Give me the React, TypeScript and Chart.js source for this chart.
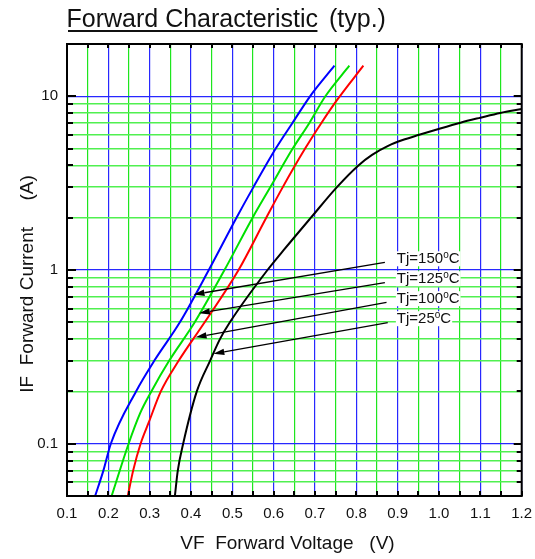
import { useEffect, useRef } from 'react';
import { Chart, registerables } from 'chart.js';

Chart.register(...registerables);

const FONT = '"Liberation Sans", Arial, Helvetica, sans-serif';

// ---- axis ticks ----
const xTicks = [0.1, 0.15, 0.2, 0.25, 0.3, 0.35, 0.4, 0.45, 0.5, 0.55, 0.6, 0.65, 0.7, 0.75, 0.8, 0.85, 0.9, 0.95, 1.0, 1.05, 1.1, 1.15, 1.2];
const xTickLabels = ['0.1', '', '0.2', '', '0.3', '', '0.4', '', '0.5', '', '0.6', '', '0.7', '', '0.8', '', '0.9', '', '1.0', '', '1.1', '', '1.2'];
const yTicks = [0.05, 0.06, 0.07, 0.08, 0.09, 0.1, 0.2, 0.3, 0.4, 0.5, 0.6, 0.7, 0.8, 0.9, 1, 2, 3, 4, 5, 6, 7, 8, 9, 10, 20];
const yTickLabels = ['', '', '', '', '', '0.1', '', '', '', '', '', '', '', '', '1', '', '', '', '', '', '', '', '', '10', ''];

// ---- series (VF in V, IF in A) ----
const vf150 = [0.168, 0.188, 0.206, 0.267, 0.311, 0.373, 0.443, 0.510, 0.551, 0.605, 0.645, 0.688, 0.747];
const if150 = [0.05, 0.07, 0.1, 0.2, 0.3, 0.5, 1, 2, 3, 5, 7, 10, 15];

const vf125 = [0.208, 0.249, 0.277, 0.304, 0.347, 0.409, 0.481, 0.549, 0.592, 0.646, 0.686, 0.725, 0.783];
const if125 = [0.05, 0.1, 0.15, 0.2, 0.3, 0.5, 1, 2, 3, 5, 7, 10, 15];

const vf100 = [0.247, 0.260, 0.278, 0.298, 0.327, 0.370, 0.433, 0.515, 0.582, 0.622, 0.676, 0.715, 0.753, 0.817];
const if100 = [0.05, 0.07, 0.1, 0.133, 0.2, 0.3, 0.5, 1, 2, 3, 5, 7, 9.5, 15];

const vf25 = [0.361, 0.368, 0.381, 0.414, 0.446, 0.470, 0.494, 0.585, 0.624, 0.690, 0.753, 0.805, 0.838, 0.878, 0.912, 0.952, 1.003, 1.052, 1.100, 1.148, 1.200];
const if25 = [0.05, 0.07, 0.1, 0.2, 0.3, 0.4, 0.5, 1, 1.3, 2, 3, 4, 4.6, 5.2, 5.6, 6.0, 6.53, 7.05, 7.53, 8.02, 8.45];

const seriesNames = ['Tj=150', 'Tj=125', 'Tj=100', 'Tj=25'];
const seriesColors = ['#0000ff', '#00e000', '#ff0000', '#000000'];
const seriesVF = [vf150, vf125, vf100, vf25];
const seriesIF = [if150, if125, if100, if25];

// ---- label annotations (data coordinates) ----
const labelX = 0.898;
const labelY = [1.093, 0.839, 0.644, 0.494];
const arrowTailX = [0.869, 0.869, 0.873, 0.876];
const arrowTailY = [1.107, 0.845, 0.652, 0.498];
const arrowTipX = [0.406, 0.419, 0.411, 0.454];
const arrowTipY = [0.722, 0.564, 0.410, 0.329];

const BLUE = 'rgb(40,40,255)';
const GREEN_V = 'rgb(30,230,30)';
const GREEN_H = 'rgb(80,240,80)';

const overlay = {
  id: 'overlay',
  afterDatasetsDraw(chart: any) {
    const ctx = chart.ctx as CanvasRenderingContext2D;
    const xs = chart.scales.x;
    const ys = chart.scales.y;
    ctx.save();
    // arrows
    ctx.strokeStyle = '#000';
    ctx.fillStyle = '#000';
    ctx.lineWidth = 1.3;
    for (let i = 0; i < arrowTailX.length; i++) {
      const x0 = xs.getPixelForValue(arrowTailX[i]);
      const y0 = ys.getPixelForValue(arrowTailY[i]);
      const x1 = xs.getPixelForValue(arrowTipX[i]);
      const y1 = ys.getPixelForValue(arrowTipY[i]);
      const a = Math.atan2(y1 - y0, x1 - x0);
      const hl = 11, hw = 3.2;
      const bx = x1 - hl * Math.cos(a), by = y1 - hl * Math.sin(a);
      ctx.beginPath();
      ctx.moveTo(x0, y0);
      ctx.lineTo(bx, by);
      ctx.stroke();
      ctx.beginPath();
      ctx.moveTo(x1, y1);
      ctx.lineTo(bx + hw * Math.sin(a), by - hw * Math.cos(a));
      ctx.lineTo(bx - hw * Math.sin(a), by + hw * Math.cos(a));
      ctx.closePath();
      ctx.fill();
    }
    // labels
    for (let i = 0; i < seriesNames.length; i++) {
      const x = xs.getPixelForValue(labelX);
      const y = ys.getPixelForValue(labelY[i]);
      ctx.font = `15px ${FONT}`;
      const w1 = ctx.measureText(seriesNames[i]).width;
      ctx.font = `10px ${FONT}`;
      const w2 = ctx.measureText('o').width;
      ctx.font = `15px ${FONT}`;
      const w3 = ctx.measureText('C').width;
      ctx.fillStyle = '#fff';
      ctx.fillRect(x - 1, y - 12, w1 + w2 + w3 + 2, 15);
      ctx.fillStyle = '#111';
      ctx.textAlign = 'left';
      ctx.textBaseline = 'alphabetic';
      ctx.fillText(seriesNames[i], x, y);
      ctx.font = `10px ${FONT}`;
      ctx.fillText('o', x + w1, y - 5.5);
      ctx.font = `15px ${FONT}`;
      ctx.fillText('C', x + w1 + w2, y);
    }
    ctx.restore();
  },
  afterDraw(chart: any) {
    const ctx = chart.ctx as CanvasRenderingContext2D;
    const { left, right, top, bottom } = chart.chartArea;
    const xs = chart.scales.x;
    const ys = chart.scales.y;
    ctx.save();
    // inward ticks
    ctx.strokeStyle = '#000';
    ctx.lineWidth = 2;
    ctx.beginPath();
    xTicks.forEach((v) => {
      const px = Math.round(xs.getPixelForValue(v));
      ctx.moveTo(px, top); ctx.lineTo(px, top + 4);
      ctx.moveTo(px, bottom); ctx.lineTo(px, bottom - 5);
    });
    yTicks.forEach((v, i) => {
      const py = Math.round(ys.getPixelForValue(v));
      const len = yTickLabels[i] ? 9 : 6;
      ctx.moveTo(left, py); ctx.lineTo(left + len, py);
      ctx.moveTo(right, py); ctx.lineTo(right - len + 1, py);
    });
    ctx.stroke();
    // frame
    ctx.strokeRect(left, top, right - left, bottom - top);

    // title
    ctx.fillStyle = '#111';
    ctx.textBaseline = 'alphabetic';
    ctx.textAlign = 'left';
    ctx.font = `25px ${FONT}`;
    const t1 = 'Forward Characteristic';
    ctx.fillText(t1, 66.5, 27);
    const w = ctx.measureText(t1).width;
    ctx.fillRect(68, 30, w - 2, 2);
    ctx.fillText('(typ.)', 66.5 + w + 11, 27);

    // axis titles
    ctx.font = `19px ${FONT}`;
    ctx.textAlign = 'center';
    ctx.fillText('VF  Forward Voltage   (V)', 287.5, 549);
    ctx.translate(33, 284);
    ctx.rotate(-Math.PI / 2);
    ctx.fillText('IF  Forward Current     (A)', 0, 0);
    ctx.restore();
  },
};

export default function App() {
  const ref = useRef<HTMLCanvasElement | null>(null);
  useEffect(() => {
    document.body.style.margin = '0';
    const canvas = ref.current;
    if (!canvas) return;
    const chart = new Chart(canvas, {
      type: 'line',
      data: {
        datasets: seriesNames.map((name, s) => ({
          label: name,
          data: seriesVF[s].map((v, i) => ({ x: v, y: seriesIF[s][i] })),
          borderColor: seriesColors[s],
          backgroundColor: seriesColors[s],
          borderWidth: 2,
          pointRadius: 0,
          fill: false,
          cubicInterpolationMode: 'monotone' as const,
        })),
      },
      options: {
        responsive: false,
        maintainAspectRatio: false,
        animation: false,
        events: [],
        layout: { padding: { top: 44, right: 13.3, left: 0, bottom: 0 } },
        plugins: {
          legend: { display: false },
          tooltip: { enabled: false },
          title: { display: false },
        },
        scales: {
          x: {
            type: 'linear',
            min: 0.1,
            max: 1.2,
            afterBuildTicks: (s: any) => { s.ticks = xTicks.map((v) => ({ value: v })); },
            afterFit: (s: any) => { s.height = 63; s.paddingLeft = 0; s.paddingRight = 0; },
            ticks: {
              callback: (_v: any, i: number) => xTickLabels[i],
              autoSkip: false,
              maxRotation: 0,
              minRotation: 0,
              padding: 9,
              color: '#111',
              font: { family: FONT, size: 15 },
            },
            grid: {
              drawTicks: false,
              color: (c: any) => (c.index % 2 === 0 ? BLUE : GREEN_V),
              lineWidth: 1.2,
            },
            border: { display: false },
          },
          y: {
            type: 'logarithmic',
            min: 0.05,
            max: 20,
            afterBuildTicks: (s: any) => { s.ticks = yTicks.map((v) => ({ value: v })); },
            afterFit: (s: any) => { s.width = 67; s.paddingTop = 0; s.paddingBottom = 0; },
            ticks: {
              callback: (_v: any, i: number) => yTickLabels[i],
              autoSkip: false,
              padding: 9,
              color: '#111',
              font: { family: FONT, size: 15 },
            },
            grid: {
              drawTicks: false,
              color: (c: any) => (yTickLabels[c.index] ? BLUE : GREEN_H),
              lineWidth: (c: any) => (yTickLabels[c.index] ? 1.2 : 1.6),
            },
            border: { display: false },
          },
        },
      } as any,
      plugins: [overlay],
    });
    return () => chart.destroy();
  }, []);
  return (
    <div style={{ width: 535, height: 559 }}>
      <canvas ref={ref} width={535} height={559} style={{ display: 'block', width: 535, height: 559 }} />
    </div>
  );
}
